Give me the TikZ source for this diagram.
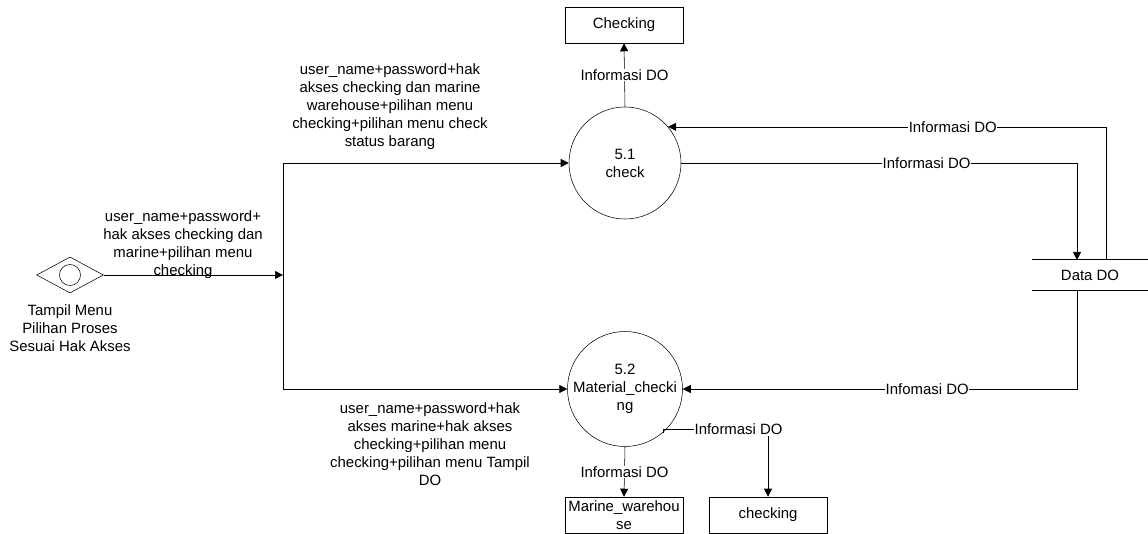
\documentclass[tikz,border=0pt]{standalone}
\usepackage{fontspec}
\setmainfont{Liberation Sans}
\usetikzlibrary{shapes.geometric,arrows.meta,positioning}

\tikzset{
  proc/.style={circle, draw, minimum size=84pt, inner sep=0pt, align=center},
  ent/.style={rectangle, draw, minimum width=88.5pt, minimum height=27pt, inner sep=1pt, align=center},
  lbl/.style={fill=white, inner sep=0.5pt, align=center},
  note/.style={inner sep=0pt, align=center},
  flow/.style={-{Triangle[length=6pt,width=6pt]}},
}

\begin{document}
\begin{tikzpicture}[x=0.75pt,y=-0.75pt,font=\fontsize{11.2}{13.5}\selectfont]
\def\storew{87pt}
\def\storeh{22.5pt}
\useasboundingbox (0,0) rectangle (1148,534);

% processes, entities and the store
\node[proc] (c51) at (625,163) {5.1\\check};
\node[proc] (c52) at (625,389) {5.2\\Material\_checki\\ng};
\node[ent] (chk1) at (624,25) {Checking};
\node[ent] (mw) at (624,515) {Marine\_warehou\\se};
\node[ent] (chk2) at (768,515) {checking};
\node[minimum width=\storew, minimum height=\storeh, inner sep=0pt] (store) at (1090,275) {Data DO};
\draw (store.north west) -- (store.north east);
\draw (store.south west) -- (store.south east);

% menu
\node[diamond, draw, minimum width=50pt, minimum height=27pt, aspect=1.86, inner sep=0pt] (menu) at (70,275) {};
\node[circle, draw, minimum size=15.75pt, inner sep=0pt] (menuc) at (menu) {};
\node[note, below=8pt of menu] (menul) {Tampil Menu\\Pilihan Proses\\Sesuai Hak Akses};

% flows into the processes
\coordinate (jn) at (283,275);
\draw[flow] (menu.east) -- (jn);
\draw[flow] (jn) |- (c51.west);
\draw[flow] (jn) |- (c52.west);
\node[note] (t1) at (183,245) {user\_name+password+\\hak akses checking dan\\marine+pilihan menu\\checking};
\node[note] (t2) at (390,107) {user\_name+password+hak\\akses checking dan marine\\warehouse+pilihan menu\\checking+pilihan menu check\\status barang};
\node[note] (t3) at (430,444) {user\_name+password+hak\\akses marine+hak akses\\checking+pilihan menu\\checking+pilihan menu Tampil\\DO};

% flows between processes, store and entities
\coordinate (sin) at (1077,260);
\coordinate (sout) at (1106,260);
\coordinate (sbot) at (1077,290);
\draw[flow] (c51.north) -- node[lbl] {Informasi DO} (chk1.south);
\draw[flow] (c51.east) -| node[lbl, pos=0.31] {Informasi DO} (sin);
\draw[flow] (sout) |- node[lbl, pos=0.675] {Informasi DO} (c51.40);
\draw[flow] (sbot) |- node[lbl, pos=0.69] {Infomasi DO} (c52.east);
\draw[flow] (c52.south) -- node[lbl] {Informasi DO} (mw.north);
\draw[flow] (c52.-49) -- ++(0,-3) -| node[lbl, pos=0.36] {Informasi DO} (chk2.north);
\end{tikzpicture}
\end{document}
